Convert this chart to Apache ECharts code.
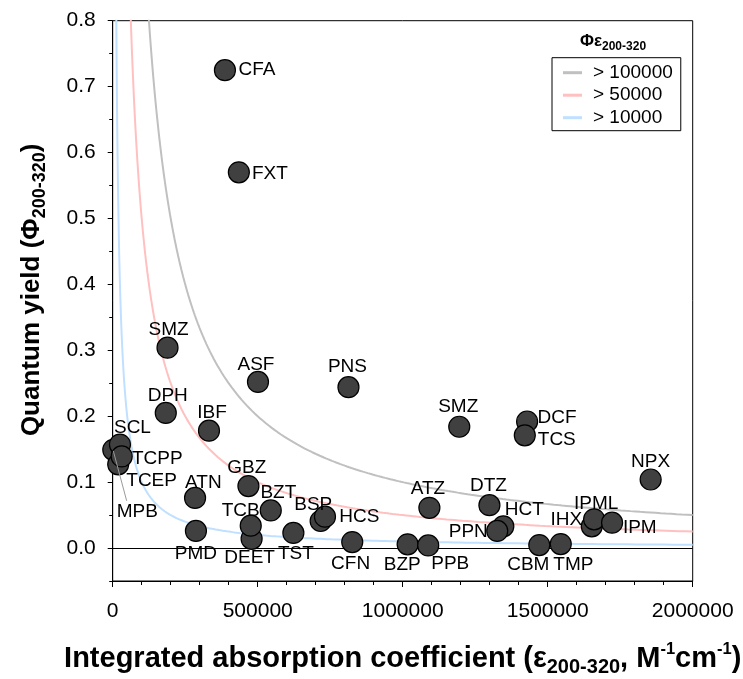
<!DOCTYPE html>
<html>
<head>
<meta charset="utf-8">
<script src="https://cdn.jsdelivr.net/npm/echarts@6/dist/echarts.min.js"></script>
<style>
  html, body { margin: 0; padding: 0; background: #fff; }
  #chart { width: 743px; height: 679px; }
</style>
</head>
<body>
<div id="chart"></div>
<script>
// Compounds: integrated absorption coefficient (ε, M^-1 cm^-1) vs quantum yield (Φ), 200-320 nm
const compounds = ['CFA','FXT','SMZ','ASF','PNS','SMZ','DCF','TCS','NPX','ATZ','DTZ','HCT','PPN','IHX','IPML','IPM','CBM','TMP','BZP','PPB','CFN','BSP','HCS','TST','BZT','GBZ','DEET','TCB','ATN','PMD','DPH','IBF','MPB','SCL','TCEP','TCPP'];
const epsilon = [387000,435000,189000,501000,813000,1195000,1429000,1421000,1855000,1092000,1299000,1347000,1326000,1652000,1660000,1722000,1471000,1545000,1017000,1088000,826000,717000,732000,623000,545000,468000,479000,476000,284000,287000,183000,332000,2000,25000,19000,31000];
const quantumYield = [0.725,0.570,0.304,0.252,0.244,0.184,0.192,0.171,0.104,0.061,0.065,0.033,0.026,0.033,0.0435,0.0385,0.0045,0.006,0.0056,0.004,0.009,0.041,0.0476,0.023,0.057,0.094,0.014,0.034,0.076,0.026,0.205,0.178,0.149,0.157,0.127,0.139];

// Iso-lines of constant Φ·ε
const isoLevels = [100000, 50000, 10000];
const isoNames = ['> 100000', '> 50000', '> 10000'];
const isoColors = ['#c0c0c0', '#ffc0c0', '#c0e0ff'];

// Axis ticks
const xTicks = [0, 500000, 1000000, 1500000, 2000000];
const yTicks = [0, 0.1, 0.2, 0.3, 0.4, 0.5, 0.6, 0.7, 0.8];
const yMinorTicks = [-0.05, 0.05, 0.15, 0.25, 0.35, 0.45, 0.55, 0.65, 0.75];

// Label placement (text centre relative to marker centre, px)
const labelOffsets = [[32,0],[31,1],[1,-18],[-2,-17],[-1,-20],[-1,-19.5],[30,-4],[32,4],[0,-18],[-1.5,-19],[-1,-19.4],[21,-17],[-29,0.5],[-25.5,-6.7],[2,-16],[27.7,5],[-11,20],[12.6,20.3],[-5.4,20],[22,18],[-1.6,22],[-7.4,-16.4],[34.3,0],[2.5,20.5],[7.6,-18],[-1.6,-18],[-2,19],[-10,-15],[8.3,-15.6],[0,22.5],[2,-17],[3,-18],[24,62],[12.5,-16.7],[33.4,16.7],[35.6,2.5]];
// Guide line from a marker out to its displaced label (start / end relative to marker centre, px)
const leader = { name: 'MPB', start: [0, 1], end: [13.4, 51] };

const FONT = "'Liberation Sans', Arial, sans-serif";

function isoCurve(k) {
  const pts = [];
  const x0 = k / 0.85, x1 = 2000000, n = 300;
  for (let i = 0; i <= n; i++) {
    const x = x0 * Math.pow(x1 / x0, i / n);
    pts.push([x, k / x]);
  }
  return pts;
}

const leaderIdx = compounds.indexOf(leader.name);

const scatterData = compounds.map((name, i) => ({ name: name, value: [epsilon[i], quantumYield[i]] }));

const series = isoLevels.map((k, i) => ({
  name: isoNames[i],
  type: 'line',
  data: isoCurve(k),
  showSymbol: false,
  symbol: 'none',
  color: isoColors[i],
  lineStyle: { color: isoColors[i], width: 2 },
  silent: true,
  z: 2,
  markLine: i === 0 ? {
    silent: true,
    symbol: ['none', 'none'],
    label: { show: false },
    lineStyle: { color: '#000', width: 1, type: 'solid' },
    data: [{ yAxis: 0 }]
  } : undefined
}));

const scatterIndex = series.length;
series.push({
  name: 'compounds',
  type: 'scatter',
  data: scatterData,
  symbolSize: 21,
  z: 5,
  itemStyle: { color: '#404040', borderColor: '#000', borderWidth: 1.2, opacity: 1 },
  label: {
    show: true,
    position: 'inside',
    align: 'center',
    verticalAlign: 'middle',
    formatter: '{b}',
    color: '#000',
    fontSize: 19,
    fontFamily: FONT
  },
  labelLayout: function (params) {
    const off = labelOffsets[params.dataIndex] || [0, 0];
    return { dx: off[0], dy: off[1] };
  }
});

const chart = echarts.init(document.getElementById('chart'), null, { renderer: 'canvas' });
chart.setOption({
  animation: false,
  backgroundColor: '#fff',
  textStyle: { fontFamily: FONT },
  grid: {
    left: 112.7, top: 20.7, right: 50.3, bottom: 98,
    outerBoundsMode: 'none',
    containLabel: false,
    show: true, borderColor: '#000', borderWidth: 1, backgroundColor: 'transparent'
  },
  title: {
    text: '{a|Φε}{b|200-320}',
    left: 580, top: 29,
    padding: 0,
    textStyle: {
      rich: {
        a: { fontSize: 17, fontWeight: 'bold', fontFamily: FONT, color: '#000', lineHeight: 24, verticalAlign: 'middle' },
        b: { fontSize: 12, fontWeight: 'bold', fontFamily: FONT, color: '#000', lineHeight: 12, verticalAlign: 'bottom' }
      }
    }
  },
  legend: {
    data: isoNames,
    orient: 'vertical',
    left: 552, top: 57.7,
    padding: [5, 8, 3, 11],
    itemGap: 2.5,
    itemWidth: 19,
    itemHeight: 3,
    icon: 'rect',
    borderColor: '#000',
    borderWidth: 1,
    selectedMode: false,
    textStyle: { fontSize: 19, fontFamily: FONT, color: '#000', lineHeight: 20, padding: [0, 0, 0, 6] }
  },
  xAxis: {
    type: 'value',
    min: 0, max: 2000000, interval: 500000,
    name: '{t|Integrated absorption coefficient (ε}{s|200-320}{t|, M}{u|-1}{t|cm}{u|-1}{t|)}',
    nameLocation: 'middle',
    nameGap: 60,
    nameTextStyle: {
      rich: {
        t: { fontSize: 29, fontWeight: 'bold', fontFamily: FONT, color: '#000', lineHeight: 36, verticalAlign: 'middle' },
        s: { fontSize: 20, fontWeight: 'bold', fontFamily: FONT, color: '#000', lineHeight: 17, verticalAlign: 'bottom' },
        u: { fontSize: 16.5, fontWeight: 'bold', fontFamily: FONT, color: '#000', lineHeight: 15, verticalAlign: 'top' }
      }
    },
    axisLine: { show: true, onZero: false, lineStyle: { color: '#000', width: 1 } },
    axisTick: { show: true, inside: false, length: 6, customValues: xTicks, lineStyle: { color: '#000' } },
    minorTick: { show: true, splitNumber: 5, length: 4, lineStyle: { color: '#000' } },
    axisLabel: { customValues: xTicks, margin: 20, fontSize: 21, fontFamily: FONT, color: '#000', formatter: v => String(Math.round(v)) },
    splitLine: { show: false },
    minorSplitLine: { show: false }
  },
  yAxis: [{
    type: 'value',
    min: -0.05, max: 0.8, interval: 0.05,
    name: '{t|Quantum yield (Φ}{s|200-320}{t|)}',
    nameLocation: 'middle',
    nameGap: 64,
    nameRotate: 90,
    nameTextStyle: {
      padding: [0, 0, 0, 22],
      rich: {
        t: { fontSize: 26, fontWeight: 'bold', fontFamily: FONT, color: '#000', lineHeight: 34, verticalAlign: 'middle' },
        s: { fontSize: 18, fontWeight: 'bold', fontFamily: FONT, color: '#000', lineHeight: 16, verticalAlign: 'bottom' }
      }
    },
    axisLine: { show: true, onZero: false, lineStyle: { color: '#000', width: 1 } },
    axisTick: { show: true, inside: false, length: 5, customValues: yTicks, lineStyle: { color: '#000' } },
    axisLabel: { customValues: yTicks, margin: 17, fontSize: 21, fontFamily: FONT, color: '#000', formatter: v => v.toFixed(1) },
    splitLine: { show: false }
  }, {
    type: 'value',
    min: -0.05, max: 0.8, interval: 0.05,
    position: 'left',
    axisLine: { show: false },
    axisTick: { show: true, inside: false, length: 3.5, customValues: yMinorTicks, lineStyle: { color: '#000' } },
    axisLabel: { show: false },
    splitLine: { show: false }
  }],
  series: series
});

// Guide line for the MPB label: ends resolved through the scatter series' axes
const finder = { seriesIndex: scatterIndex };
const anchor = chart.convertToPixel(finder, [epsilon[leaderIdx], quantumYield[leaderIdx]]);
if (anchor) {
  const from = chart.convertFromPixel(finder, [anchor[0] + leader.start[0], anchor[1] + leader.start[1]]);
  const to = chart.convertFromPixel(finder, [anchor[0] + leader.end[0], anchor[1] + leader.end[1]]);
  series.push({
    name: 'MPB guide',
    type: 'line',
    data: [from, to],
    symbol: 'none',
    showSymbol: false,
    silent: true,
    clip: false,
    z: 6,
    lineStyle: { color: '#9a9a9a', width: 1 }
  });
  chart.setOption({ series: series });
}
</script>
</body>
</html>
